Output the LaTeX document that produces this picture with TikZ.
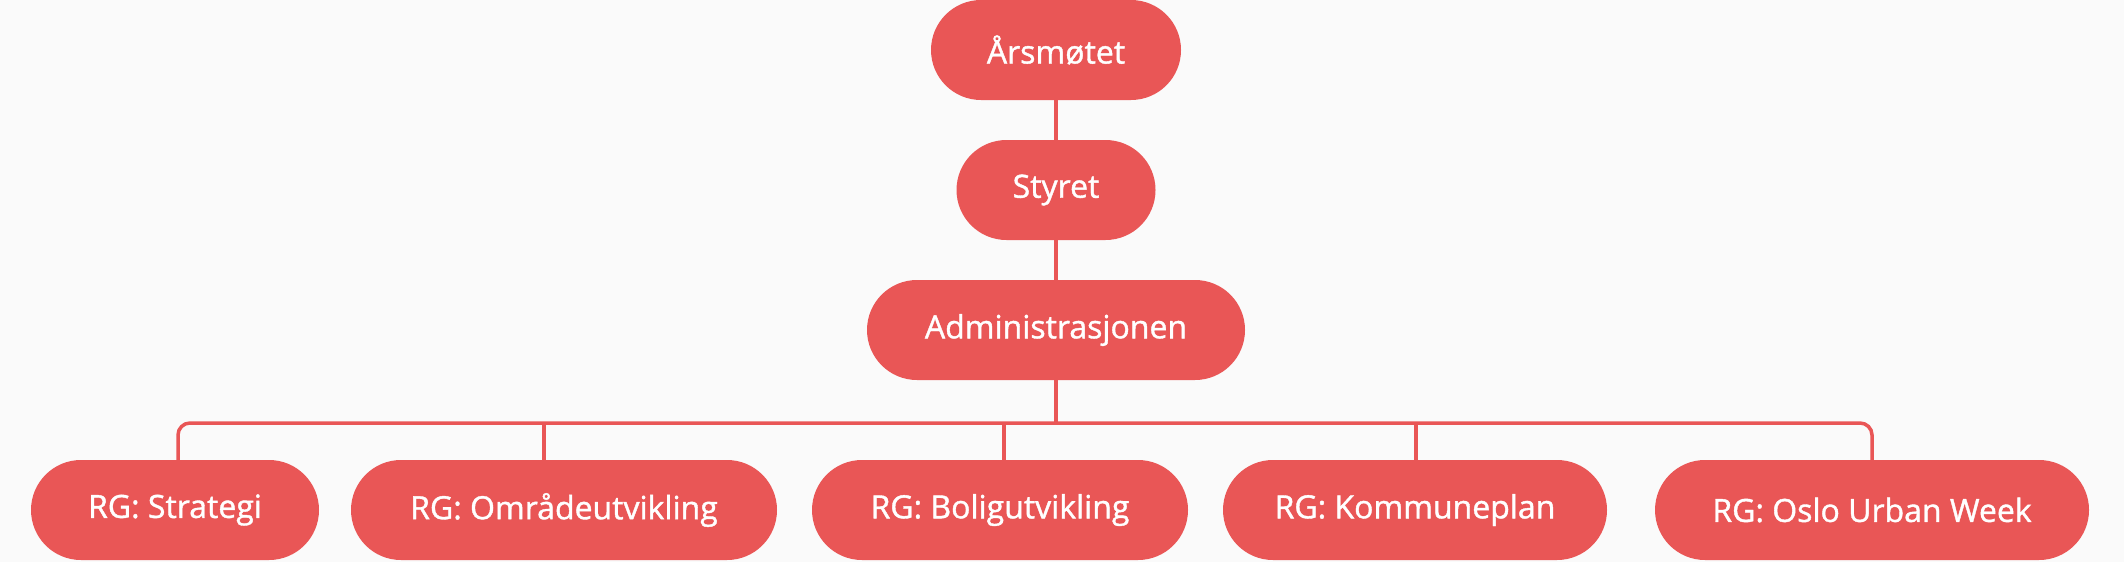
\documentclass[tikz,border=0pt]{standalone}
\usepackage{fontspec}
\setmainfont{Open Sans}
\newfontfamily\boxfont{Open Sans}[FakeBold=1.2]
\definecolor{rg}{HTML}{E95656}
\definecolor{bg}{HTML}{FAFAFA}
\tikzset{
  box/.style={fill=rg,text=white,rounded corners=50pt,minimum height=100pt,font=\boxfont\fontsize{32}{38}\selectfont,inner sep=0pt},
  link/.style={draw=rg,line width=3.5pt}
}
\begin{document}
\begin{tikzpicture}[x=1pt,y=1pt]
\fill[bg] (0,0) rectangle (2124,-562);
\useasboundingbox (0,0) rectangle (2124,-562);
\node[box,minimum width=250pt] (a) at (1056,-50) {Årsmøtet};
\node[box,minimum width=199pt] (s) at (1056,-190) {Styret};
\node[box,minimum width=378pt] (d) at (1056,-330) {Administrasjonen};
\node[box,minimum width=288pt] (b1) at (175,-510) {RG: Strategi};
\node[box,minimum width=426pt] (b2) at (564,-510) {RG: Områdeutvikling};
\node[box,minimum width=376pt] (b3) at (1000,-510) {RG: Boligutvikling};
\node[box,minimum width=384pt] (b4) at (1415,-510) {RG: Kommuneplan};
\node[box,minimum width=434pt] (b5) at (1872,-510) {RG: Oslo Urban Week};
\coordinate (h) at (1056,-423);
\coordinate (l) at (178,-423);
\coordinate (r) at (1872,-423);
\draw[link] (a.south) -- (s.north);
\draw[link] (s.south) -- (d.north);
\draw[link] (d.south) -- (h);
\draw[link,rounded corners=12pt] (l |- b1.north) -- (l) -- (r) -- (b5.north);
\draw[link] (544,-423) -- (544,-460);
\draw[link] (1004,-423) -- (1004,-460);
\draw[link] (1416,-423) -- (1416,-460);
\end{tikzpicture}
\end{document}
